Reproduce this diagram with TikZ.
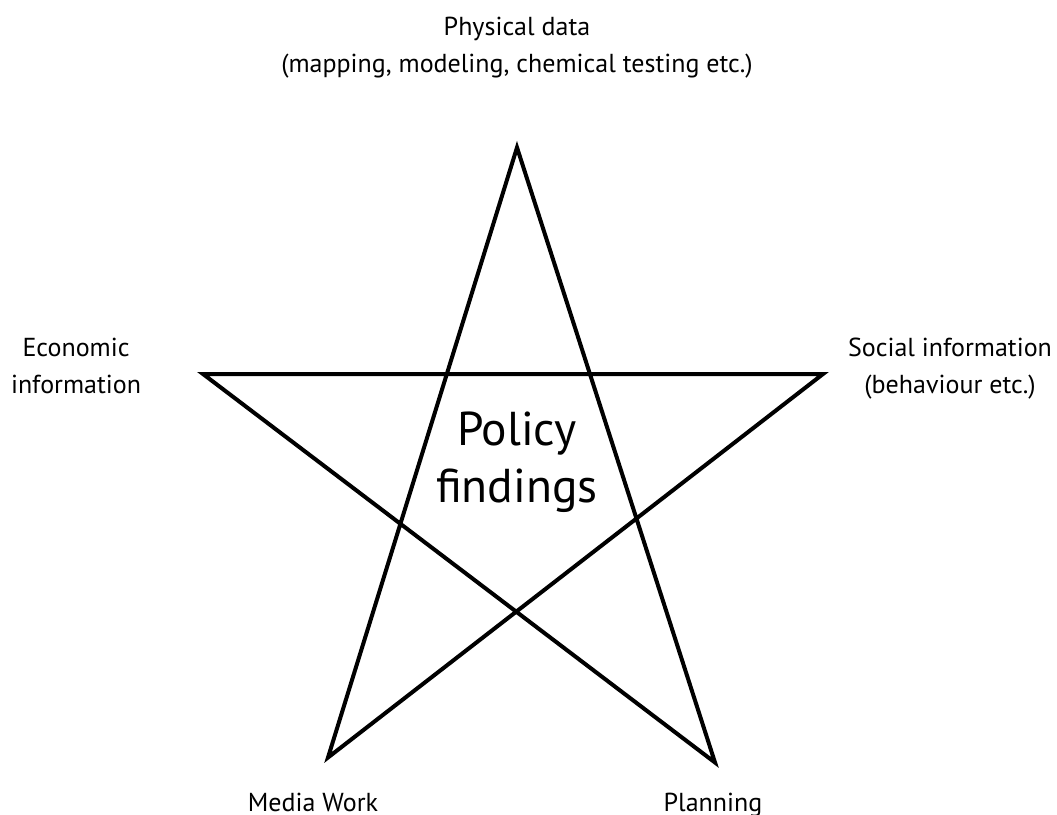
\documentclass[tikz,border=0pt]{standalone}
\usepackage{fontspec}
\setmainfont{PT Sans}
\tikzset{
  lbl/.style={anchor=base, align=center, inner sep=0pt, font=\fontsize{26}{37}\selectfont},
  big/.style={anchor=base, align=center, inner sep=0pt, font=\fontsize{47.5}{57}\selectfont},
  starline/.style={line width=4pt, line join=miter, miter limit=10}
}
\begin{document}
\begin{tikzpicture}[x=1pt,y=-1pt]
\useasboundingbox (0,0) rectangle (1057,814);
\coordinate (T) at (517,147.5);
\coordinate (L) at (203,374);
\coordinate (R) at (823,374);
\coordinate (BL) at (328,757.5);
\coordinate (BR) at (715,762.5);
\draw[starline] (T) -- (BR) -- (L) -- (R) -- (BL) -- cycle;
\node[lbl] (phys) at (517,72) {Physical data\\(mapping, modeling, chemical testing etc.)};
\node[lbl] (econ) at (76,393) {Economic\\information};
\node[lbl] (soc) at (950,393) {Social information\\(behaviour etc.)};
\node[big] (pol) at (517,502) {Policy\\findings};
\node[lbl] (media) at (313,811) {Media Work};
\node[lbl] (plan) at (713,811) {Planning};
\end{tikzpicture}
\end{document}
